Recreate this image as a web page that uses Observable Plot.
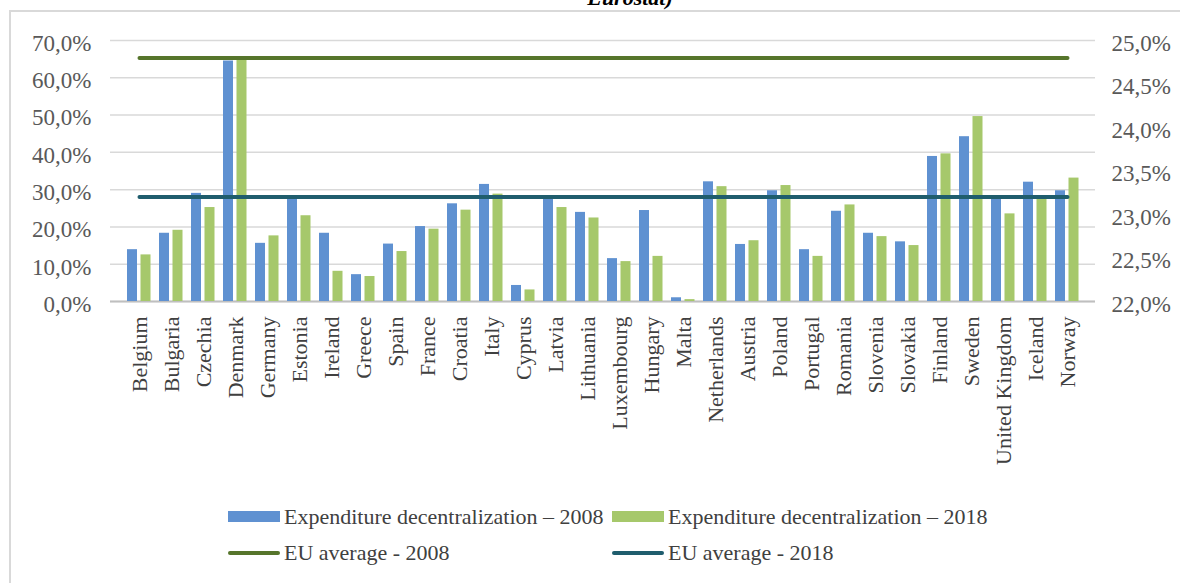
<!DOCTYPE html>
<html>
<head>
<meta charset="utf-8">
<script src="https://cdn.jsdelivr.net/npm/d3@7"></script>
<script src="https://cdn.jsdelivr.net/npm/@observablehq/plot@0.6"></script>
<style>
  html, body { margin: 0; padding: 0; background: #fff; }
  #wrap { position: relative; width: 1180px; height: 583px; overflow: hidden; font-family: "Liberation Serif", "Times New Roman", serif; }
  #title { position: absolute; left: 0; width: 1260px; text-align: center; top: -13px; font-size: 22px; line-height: 22px; font-weight: bold; font-style: italic; color: #000; }
  #frameTop { position: absolute; left: 9px; top: 10px; width: 1171px; height: 2px; background: #d9d9d9; }
  #frameLeft { position: absolute; left: 9px; top: 10px; width: 2px; height: 573px; background: #d9d9d9; }
  #chart { position: absolute; left: 0; top: 0; }
  .lg { position: absolute; font-size: 22px; line-height: 22px; color: #404040; white-space: nowrap; }
  .sw { position: absolute; }
</style>
</head>
<body>
<div id="wrap">
  <div id="title">Eurostat)</div>
  <div id="frameTop"></div>
  <div id="frameLeft"></div>
  <div id="chart"></div>
  <div id="legend"></div>
</div>
<script>
const countries = ["Belgium","Bulgaria","Czechia","Denmark","Germany","Estonia","Ireland","Greece","Spain","France","Croatia","Italy","Cyprus","Latvia","Lithuania","Luxembourg","Hungary","Malta","Netherlands","Austria","Poland","Portugal","Romania","Slovenia","Slovakia","Finland","Sweden","United Kingdom","Iceland","Norway"];
const exp2008 = [13.9,18.3,29.0,64.5,15.6,27.5,18.3,7.2,15.4,20.1,26.2,31.4,4.3,27.6,23.9,11.5,24.4,1.0,32.1,15.3,29.7,13.9,24.2,18.3,16.0,38.9,44.2,27.6,32.0,29.7];
const exp2018 = [12.5,19.1,25.2,64.7,17.6,23.0,8.1,6.7,13.4,19.4,24.5,28.8,3.1,25.2,22.4,10.7,12.1,0.5,30.8,16.3,31.1,12.1,25.9,17.4,15.0,39.6,49.6,23.5,27.5,33.1];
const euAvg2008 = 24.8;   // right axis
const euAvg2018 = 23.2;   // right axis
const leftTicks = [0,10,20,30,40,50,60,70];
const rightTicks = [22.0,22.5,23.0,23.5,24.0,24.5,25.0];
const seriesNames = ["Expenditure decentralization \u2013 2008","Expenditure decentralization \u2013 2018","EU average - 2008","EU average - 2018"];
const colors = ["#5f91d1","#a6c86b","#56752b","#1f5d6d"];

const fmt = v => v.toFixed(1).replace(".", ",") + "%";
const toLeft = r => (r - 22) / 3 * 70;
const fromLeft = l => l / 70 * 3 + 22;

const rows2008 = countries.map((c, i) => ({country: c, value: exp2008[i]}));
const rows2018 = countries.map((c, i) => ({country: c, value: exp2018[i]}));
const ends = [countries[0], countries[countries.length - 1]];
const avg08 = ends.map(c => ({country: c, value: toLeft(euAvg2008)}));
const avg18 = ends.map(c => ({country: c, value: toLeft(euAvg2018)}));

const chart = Plot.plot({
  width: 1180,
  height: 490,
  marginLeft: 110,
  marginRight: 85,
  marginTop: 40,
  marginBottom: 189,
  style: {fontFamily: "Liberation Serif, Times New Roman, serif", background: "transparent"},
  x: {domain: countries, padding: 0, label: null},
  y: {domain: [0, 70], label: null},
  marks: [
    Plot.gridY(leftTicks, {stroke: "#d9d9d9", strokeOpacity: 1, strokeWidth: 1.5}),
    Plot.ruleY([0], {stroke: "#bfbfbf", strokeWidth: 2}),
    Plot.barY(rows2008, {x: "country", y: "value", fill: colors[0], insetLeft: 4, insetRight: 18}),
    Plot.barY(rows2018, {x: "country", y: "value", fill: colors[1], insetLeft: 17.5, insetRight: 4.5}),
    Plot.line(avg08, {x: "country", y: "value", stroke: colors[2], strokeWidth: 4, strokeLinecap: "round"}),
    Plot.line(avg18, {x: "country", y: "value", stroke: colors[3], strokeWidth: 4, strokeLinecap: "round"}),
    Plot.axisY(leftTicks, {anchor: "left", tickSize: 0, tickPadding: 19, fontSize: 23, tickFormat: fmt, label: null, fill: "#595959", dy: 3}),
    Plot.axisY(rightTicks.map(toLeft), {anchor: "right", tickSize: 0, tickPadding: 16, fontSize: 23, tickFormat: v => fmt(fromLeft(v)), label: null, fill: "#595959", dy: 3}),
    Plot.axisX({tickRotate: -90, tickSize: 0, tickPadding: 15, fontSize: 22, label: null, fill: "#404040"})
  ]
});
document.getElementById("chart").appendChild(chart);

// legend
const legend = document.getElementById("legend");
const items = [
  {name: seriesNames[0], color: colors[0], kind: "box", x: 228, y: 517},
  {name: seriesNames[1], color: colors[1], kind: "box", x: 612, y: 517},
  {name: seriesNames[2], color: colors[2], kind: "line", x: 228, y: 553},
  {name: seriesNames[3], color: colors[3], kind: "line", x: 612, y: 553}
];
for (const it of items) {
  const sw = document.createElement("div");
  sw.className = "sw";
  sw.style.left = it.x + "px";
  sw.style.width = "52px";
  if (it.kind === "box") { sw.style.top = (it.y - 6) + "px"; sw.style.height = "11px"; }
  else { sw.style.top = (it.y - 2) + "px"; sw.style.height = "4px"; sw.style.borderRadius = "2px"; }
  sw.style.background = it.color;
  legend.appendChild(sw);
  const t = document.createElement("div");
  t.className = "lg";
  t.style.left = (it.x + 56) + "px";
  t.style.top = (it.y - 11) + "px";
  t.textContent = it.name;
  legend.appendChild(t);
}
</script>
</body>
</html>
